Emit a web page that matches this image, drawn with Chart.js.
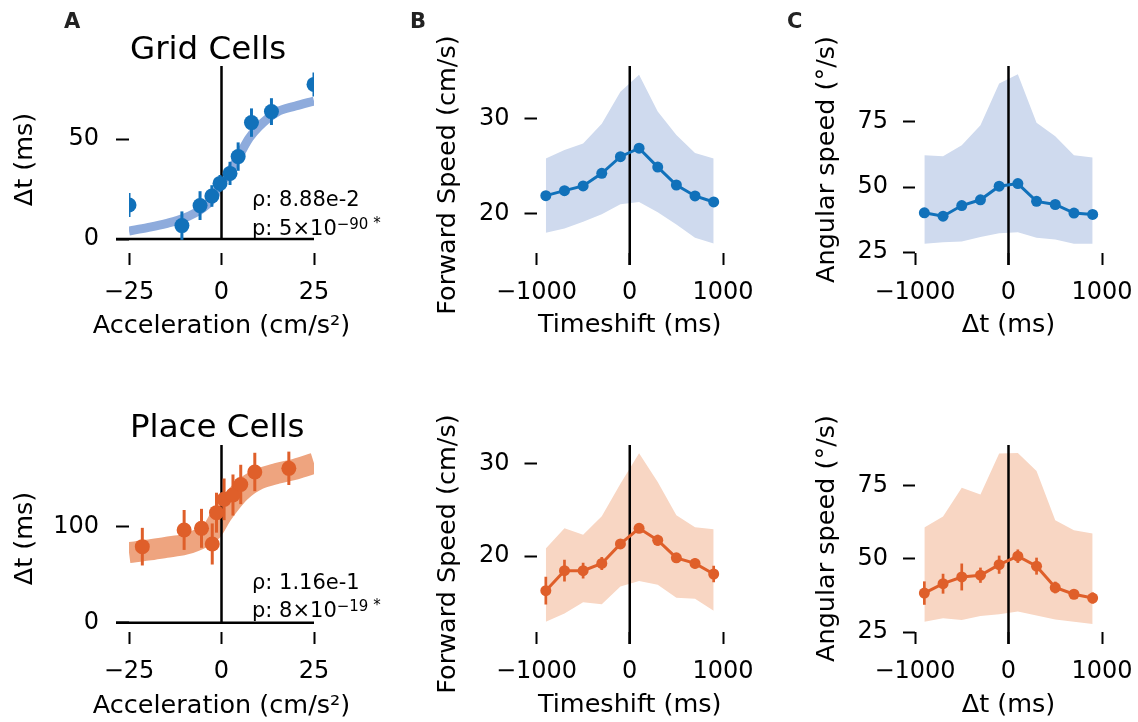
<!DOCTYPE html>
<html><head><meta charset="utf-8">
<script src="https://cdn.jsdelivr.net/npm/chart.js@4.4.1/dist/chart.umd.min.js"></script>
<style>
html,body{margin:0;padding:0;background:#fff;}
body{width:1138px;height:722px;position:relative;overflow:hidden;}
canvas{position:absolute;}
</style></head><body>
<canvas id="gridAccel"></canvas>
<canvas id="placeAccel"></canvas>
<canvas id="gridSpeedC"></canvas>
<canvas id="placeSpeedC"></canvas>
<canvas id="gridAngC"></canvas>
<canvas id="placeAngC"></canvas>
<script>
// ---------------- Panel A : Δt vs acceleration ----------------
const accTicks     = [-25, 0, 25];
const gridDtTicks  = [0, 50];
const placeDtTicks = [0, 100];
const gridAcc   = [-25, -10.7, -5.8, -2.6, -0.4, 2.3, 4.5, 8.1, 13.5, 25];
const gridDt    = [17, 6.7, 16.7, 21.5, 27.8, 32.8, 41.2, 58.2, 63.7, 77.3];
const gridDtErr = [6, 7.1, 7.2, 5.4, 4.2, 5.8, 7.1, 7.1, 6.7, 6];
const fitAcc    = [-25, -20, -15, -10, -5, -2.5, 0, 2.5, 5, 7.5, 10, 15, 20, 25];
const gridFit   = [4, 5.7, 7.7, 10.5, 15.5, 20, 28, 34.5, 42.5, 50.5, 56, 63.5, 66.5, 69];
const placeAcc   = [-21.4, -10.1, -5.4, -2.5, -1.35, 0.7, 3.1, 5.2, 9.0, 18.2];
const placeDt    = [79.2, 96.6, 98.3, 82, 114.6, 128.5, 133, 144, 157, 160.8];
const placeDtErr = [19.6, 20.8, 20.3, 21.4, 20.8, 21.7, 21.4, 20.5, 20, 17.4];
const placeFit   = [73, 75.5, 78.5, 81.5, 89, 96, 112, 125, 136, 144, 149.5, 155.5, 160, 166];

// ---------------- Panels B & C : speed vs time shift ----------------
const shiftTicks = [-1000, 0, 1000];
const shiftMs    = [-900, -700, -500, -300, -100, 100, 300, 500, 700, 900];
const speedTicks = [20, 30];
const gridSpeed   = [21.87, 22.4, 22.9, 24.24, 26.0, 26.9, 24.9, 23.0, 21.84, 21.2];
const gridSpeedHi = [25.8, 26.7, 27.4, 29.5, 32.9, 34.7, 30.8, 28.3, 26.4, 25.8];
const gridSpeedLo = [17.95, 18.4, 19.1, 19.9, 20.95, 21.2, 20.1, 18.8, 17.4, 16.8];
const placeSpeed    = [16.26, 18.42, 18.42, 19.2, 21.3, 22.99, 21.7, 19.8, 19.2, 18.06];
const placeSpeedErr = [1.5, 1.17, 0.86, 0.7, 0.5, 0.5, 0.6, 0.5, 0.55, 0.9];
const placeSpeedHi  = [20.8, 23.0, 22.3, 24.3, 27.8, 31.1, 28.0, 24.4, 23.1, 22.9];
const placeSpeedLo  = [12.9, 13.8, 15.0, 14.8, 16.7, 17.3, 16.9, 15.5, 15.4, 14.1];
const angTicks = [25, 50, 75];
const gridAng   = [40.1, 38.8, 42.9, 45.1, 50.3, 51.3, 44.5, 43.3, 40.0, 39.5];
const gridAngHi = [62.2, 61.8, 66.0, 73.7, 89.7, 93.2, 74.6, 69.5, 62.2, 61.3];
const gridAngLo = [28.2, 28.8, 29.1, 30.8, 32.3, 32.7, 30.5, 29.9, 28.2, 28.2];
const placeAng    = [38.3, 41.5, 43.8, 44.4, 48.0, 50.9, 47.5, 40.2, 37.9, 36.6];
const placeAngErr = [4.0, 3.4, 4.6, 2.6, 3.1, 2.3, 2.9, 2.0, 1.5, 1.9];
const placeAngHi  = [60.7, 64.5, 74.3, 72.0, 86.0, 86.2, 80.0, 63.2, 59.8, 58.7];
const placeAngLo  = [28.5, 29.7, 29.1, 30.5, 31.1, 32.0, 30.6, 29.3, 28.5, 27.7];

// ---------------- styling ----------------
const BLUE = '#1171ba', BLUE_FIT = '#8eabdc', BLUE_BAND = '#cfdaee';
const ORANGE = '#df5f2a', ORANGE_FIT = '#eea47f', ORANGE_BAND = '#f8d6c3';
const FONT = '"DejaVu Sans", sans-serif';
const TICK_SIZE = 24, LABEL_SIZE = 25.5;
Chart.defaults.font.family = FONT;
Chart.defaults.color = '#000';

const pts = (xs, ys) => xs.map((x, i) => ({x: x, y: ys[i]}));
const minus = v => String(v).replace('-', '\u2212');

function overlay(o) {
  return {
    id: 'overlay',
    beforeDatasetDraw(chart, args) {
      if (args.index !== 0) return;
      const ctx = chart.ctx, ca = chart.chartArea, xs = chart.scales.x, ys = chart.scales.y;
      ctx.save();
      ctx.strokeStyle = '#000'; ctx.lineWidth = 2.5; ctx.lineCap = 'butt';
      const x0 = xs.getPixelForValue(0);
      ctx.beginPath();
      if (o.zeroCross) {
        const y0 = ys.getPixelForValue(0);
        ctx.moveTo(ca.left - o.ext, y0); ctx.lineTo(ca.right, y0);
        ctx.moveTo(x0, ca.top); ctx.lineTo(x0, y0);
      } else {
        ctx.moveTo(x0, ca.top); ctx.lineTo(x0, ca.bottom + o.ext);
      }
      ctx.stroke();
      if (o.err) {
        ctx.beginPath(); ctx.rect(ca.left, ca.top, ca.right - ca.left, ca.bottom - ca.top); ctx.clip();
        ctx.strokeStyle = o.errColor; ctx.lineWidth = o.errWidth;
        chart.data.datasets[0].data.forEach((p, i) => {
          const px = xs.getPixelForValue(p.x);
          ctx.beginPath();
          ctx.moveTo(px, ys.getPixelForValue(p.y - o.err[i]));
          ctx.lineTo(px, ys.getPixelForValue(p.y + o.err[i]));
          ctx.stroke();
        });
      }
      ctx.restore();
    },
    afterDraw(chart) {
      const ctx = chart.ctx;
      (o.texts || []).forEach(t => {
        ctx.save();
        ctx.fillStyle = t.color || '#000';
        ctx.translate(t.x - o.box.x, t.y - o.box.y);
        if (t.rot) ctx.rotate(t.rot);
        ctx.textBaseline = t.baseline || 'alphabetic';
        let x = 0;
        if (t.align === 'center') {
          let w = 0;
          t.runs.forEach(r => { ctx.font = (r.weight || 'normal') + ' ' + r.size + 'px ' + FONT; w += ctx.measureText(r.text).width; });
          x = -w / 2;
        }
        ctx.textAlign = 'left';
        t.runs.forEach(r => {
          ctx.font = (r.weight || 'normal') + ' ' + r.size + 'px ' + FONT;
          ctx.fillText(r.text, x, r.dy || 0);
          x += ctx.measureText(r.text).width;
        });
        ctx.restore();
      });
    }
  };
}

function axis(range, ticks, title, fitFn, tickLen, tickPad, titlePad) {
  return {
    type: 'linear', min: range[0], max: range[1],
    afterBuildTicks: s => { s.ticks = ticks.map(v => ({value: v})); },
    afterFit: fitFn,
    grid: {drawOnChartArea: false, drawTicks: true, tickLength: tickLen, tickWidth: 2, tickColor: '#000'},
    border: {display: false},
    ticks: {font: {size: TICK_SIZE}, color: '#000', padding: tickPad, maxRotation: 0, autoSkip: false,
            callback: v => minus(v)},
    title: {display: !!title, text: title || '', font: {size: LABEL_SIZE}, color: '#000', padding: titlePad}
  };
}

function makeChart(id, box, area, xa, ya, datasets, o) {
  const cv = document.getElementById(id);
  cv.width = box.w; cv.height = box.h;
  cv.style.left = box.x + 'px'; cv.style.top = box.y + 'px';
  o.box = box;
  const xH = box.y + box.h - area.B, yW = area.L - box.x;
  return new Chart(cv, {
    type: 'line',
    data: {datasets: datasets},
    options: {
      responsive: false, animation: false, events: [],
      layout: {padding: {left: 0, top: area.T - box.y, right: box.x + box.w - area.R, bottom: 0}},
      plugins: {legend: {display: false}, tooltip: {enabled: false}},
      scales: {
        x: axis(xa.range, xa.ticks, xa.title,
                s => { s.height = xH; s.paddingLeft = 0; s.paddingRight = 0; },
                12, 13, {top: 0, bottom: xa.titlePad}),
        y: axis(ya.range, ya.ticks, ya.title,
                s => { s.width = yW; s.paddingTop = 0; s.paddingBottom = 0; },
                ya.tickLen || 12, ya.tickPad, {top: ya.titlePad, bottom: 0})
      }
    },
    plugins: [overlay(o)]
  });
}

function bandSets(xs, mean, hi, lo, color, band, pr) {
  return [
    {data: pts(xs, mean), borderColor: color, backgroundColor: color, borderWidth: 3,
     pointRadius: pr, pointBorderWidth: 0, pointBackgroundColor: color, tension: 0, fill: false},
    {data: pts(xs, hi), borderWidth: 0, pointRadius: 0, backgroundColor: band, fill: '+1', tension: 0},
    {data: pts(xs, lo), borderWidth: 0, pointRadius: 0, fill: false, tension: 0}
  ];
}

function fitSets(x, y, err, fit, color, fitColor, fitW) {
  return [
    {data: pts(x, y), showLine: false, pointRadius: 7.5, pointBorderWidth: 0,
     pointBackgroundColor: color, backgroundColor: color, clip: 0},
    {data: pts(fitAcc, fit), borderColor: fitColor, borderWidth: fitW, pointRadius: 0,
     cubicInterpolationMode: 'monotone', borderCapStyle: 'butt', fill: false, clip: 0}
  ];
}

const TOP = {y: 0, h: 345, T: 66, B: 253, xTitlePad: 4, xTitleY: 326};
const BOT = {y: 380, h: 342, T: 445, B: 632, xTitlePad: 1, xTitleY: 706};
const accLabel = 'Acceleration (cm/s\u00b2)';
const fwdLabel = 'Forward Speed (cm/s)';

// ---- A ----
makeChart('gridAccel', {x: 0, y: TOP.y, w: 400, h: TOP.h}, {L: 129, R: 314, T: TOP.T, B: TOP.B},
  {range: [-25, 25], ticks: accTicks, title: null, titlePad: TOP.xTitlePad},
  {range: [-7, 86.5], ticks: gridDtTicks, title: '\u0394t (ms)', tickLen: 13, tickPad: 17, titlePad: 10},
  fitSets(gridAcc, gridDt, gridDtErr, gridFit, BLUE, BLUE_FIT, 9),
  {zeroCross: true, ext: 13, err: gridDtErr, errColor: BLUE, errWidth: 3,
   texts: [
     {x: 64, y: 28, runs: [{text: 'A', size: 21, weight: 'bold'}], color: '#222'},
     {x: 130, y: 59.3, runs: [{text: 'Grid Cells', size: 32.5}]},
     {x: 221.5, y: TOP.xTitleY, align: 'center', baseline: 'middle', runs: [{text: accLabel, size: LABEL_SIZE}]},
     {x: 252, y: 205.7, runs: [{text: '\u03c1: 8.88e-2', size: 21}]},
     {x: 252, y: 235, runs: [{text: 'p: 5\u00d710', size: 21}, {text: '\u221290', size: 15, dy: -6.5}, {text: ' *', size: 15, dy: -7}]}
   ]});

makeChart('placeAccel', {x: 0, y: BOT.y, w: 400, h: BOT.h}, {L: 129, R: 314, T: BOT.T, B: BOT.B},
  {range: [-25, 25], ticks: accTicks, title: null, titlePad: BOT.xTitlePad},
  {range: [-9.7, 185.1], ticks: placeDtTicks, title: '\u0394t (ms)', tickLen: 13, tickPad: 17, titlePad: 10},
  fitSets(placeAcc, placeDt, placeDtErr, placeFit, ORANGE, ORANGE_FIT, 21),
  {zeroCross: true, ext: 13, err: placeDtErr, errColor: ORANGE, errWidth: 3,
   texts: [
     {x: 130, y: 437, runs: [{text: 'Place Cells', size: 32.5}]},
     {x: 221.5, y: BOT.xTitleY, align: 'center', baseline: 'middle', runs: [{text: accLabel, size: LABEL_SIZE}]},
     {x: 252, y: 589, runs: [{text: '\u03c1: 1.16e-1', size: 21}]},
     {x: 252, y: 617, runs: [{text: 'p: 8\u00d710', size: 21}, {text: '\u221219', size: 15, dy: -6.5}, {text: ' *', size: 15, dy: -7}]}
   ]});

// ---- B ----
makeChart('gridSpeedC', {x: 405, y: TOP.y, w: 375, h: TOP.h}, {L: 536.5, R: 723, T: TOP.T, B: TOP.B},
  {range: [-1000, 1000], ticks: shiftTicks, title: 'Timeshift (ms)', titlePad: TOP.xTitlePad},
  {range: [15.79, 35.62], ticks: speedTicks, title: null, tickPad: 15, titlePad: 28},
  bandSets(shiftMs, gridSpeed, gridSpeedHi, gridSpeedLo, BLUE, BLUE_BAND, 5.5),
  {zeroCross: false, ext: 12,
   texts: [
     {x: 410, y: 28, runs: [{text: 'B', size: 21, weight: 'bold'}], color: '#222'},
     {x: 448, y: 175, rot: -Math.PI / 2, align: 'center', baseline: 'middle', runs: [{text: fwdLabel, size: LABEL_SIZE}]}
   ]});

makeChart('placeSpeedC', {x: 405, y: BOT.y, w: 375, h: BOT.h}, {L: 536.5, R: 723, T: BOT.T, B: BOT.B},
  {range: [-1000, 1000], ticks: shiftTicks, title: 'Timeshift (ms)', titlePad: BOT.xTitlePad},
  {range: [11.8, 31.98], ticks: speedTicks, title: null, tickPad: 15, titlePad: 28},
  bandSets(shiftMs, placeSpeed, placeSpeedHi, placeSpeedLo, ORANGE, ORANGE_BAND, 5.5),
  {zeroCross: false, ext: 12, err: placeSpeedErr, errColor: ORANGE, errWidth: 2.7,
   texts: [
     {x: 448, y: 554, rot: -Math.PI / 2, align: 'center', baseline: 'middle', runs: [{text: fwdLabel, size: LABEL_SIZE}]}
   ]});

// ---- C ----
makeChart('gridAngC', {x: 780, y: TOP.y, w: 358, h: TOP.h}, {L: 915, R: 1102, T: TOP.T, B: TOP.B},
  {range: [-1000, 1000], ticks: shiftTicks, title: '\u0394t (ms)', titlePad: TOP.xTitlePad},
  {range: [24.7, 96.4], ticks: angTicks, title: 'Angular speed (\u00b0/s)', tickPad: 15, titlePad: 32},
  bandSets(shiftMs, gridAng, gridAngHi, gridAngLo, BLUE, BLUE_BAND, 5.5),
  {zeroCross: false, ext: 12,
   texts: [{x: 787, y: 28, runs: [{text: 'C', size: 21, weight: 'bold'}], color: '#222'}]});

makeChart('placeAngC', {x: 780, y: BOT.y, w: 358, h: BOT.h}, {L: 915, R: 1102, T: BOT.T, B: BOT.B},
  {range: [-1000, 1000], ticks: shiftTicks, title: '\u0394t (ms)', titlePad: BOT.xTitlePad},
  {range: [25, 88.9], ticks: angTicks, title: 'Angular speed (\u00b0/s)', tickPad: 15, titlePad: 32},
  bandSets(shiftMs, placeAng, placeAngHi, placeAngLo, ORANGE, ORANGE_BAND, 5.5),
  {zeroCross: false, ext: 12, err: placeAngErr, errColor: ORANGE, errWidth: 2.7});
</script>
</body></html>
